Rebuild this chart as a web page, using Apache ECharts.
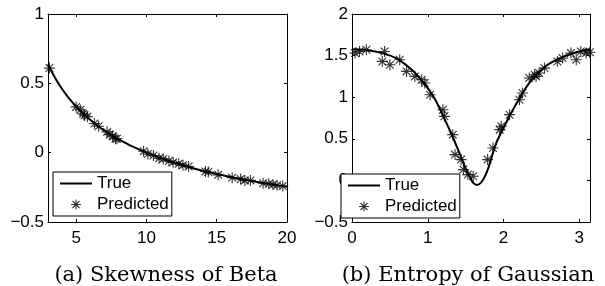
<!DOCTYPE html>
<html>
<head>
<meta charset="utf-8">
<script src="https://cdn.jsdelivr.net/npm/echarts@6/dist/echarts.min.js"></script>
<style>
  html, body { margin: 0; padding: 0; background: #fff; }
  #main { width: 605px; height: 286px; }
</style>
</head>
<body>
<div id="main"></div>
<script>
// (a) skewness of beta
var betaX = [3, 3.5, 4, 4.5, 5, 5.5, 6, 6.5, 7, 7.5, 8, 9, 10, 11, 12, 13, 14, 15, 16, 17, 18, 19, 20];
var betaTrue = [0.638, 0.540, 0.459, 0.391, 0.333, 0.282, 0.237, 0.196, 0.160, 0.127, 0.098, 0.045, 0, -0.039, -0.073, -0.103, -0.130, -0.154, -0.176, -0.196, -0.214, -0.231, -0.246];
var betaPredX = [3.1, 5.0, 5.3, 5.5, 5.6, 5.8, 6.3, 6.6, 7.2, 7.4, 7.6, 7.8, 7.9, 9.8, 10.1, 10.5, 10.9, 11.2, 11.6, 11.9, 12.3, 12.6, 13.0, 14.2, 14.4, 15.1, 16.1, 16.7, 17.0, 17.4, 18.3, 18.7, 19.0, 19.3, 19.7];
var betaPredY = [0.61, 0.33, 0.31, 0.28, 0.27, 0.26, 0.21, 0.19, 0.15, 0.13, 0.12, 0.10, 0.10, 0.01, -0.01, -0.02, -0.04, -0.045, -0.06, -0.07, -0.08, -0.09, -0.10, -0.135, -0.14, -0.16, -0.18, -0.19, -0.20, -0.20, -0.22, -0.225, -0.23, -0.235, -0.24];
var betaXTicks = [5, 10, 15, 20];

// (b) entropy of gaussian
var gaussX = [0, 0.2, 0.4, 0.6, 0.8, 0.9, 1.0, 1.1, 1.2, 1.3, 1.4, 1.5, 1.55, 1.6, 1.65, 1.7, 1.75, 1.8, 1.9, 2.0, 2.1, 2.2, 2.3, 2.4, 2.5, 2.6, 2.8, 3.0, 3.14];
var gaussTrue = [1.575, 1.565, 1.53, 1.46, 1.32, 1.22, 1.11, 0.97, 0.78, 0.585, 0.37, 0.145, 0.05, -0.03, -0.055, -0.03, 0.04, 0.15, 0.44, 0.63, 0.81, 0.97, 1.12, 1.24, 1.33, 1.40, 1.49, 1.55, 1.575];
var gaussPredX = [0.04, 0.10, 0.19, 0.40, 0.43, 0.50, 0.63, 0.72, 0.83, 0.92, 0.96, 1.03, 1.20, 1.22, 1.33, 1.36, 1.44, 1.47, 1.53, 1.60, 1.79, 1.86, 1.95, 1.97, 2.08, 2.21, 2.25, 2.34, 2.41, 2.43, 2.47, 2.54, 2.71, 2.78, 2.89, 2.96, 3.02, 3.09, 3.14];
var gaussPredY = [1.53, 1.55, 1.57, 1.43, 1.55, 1.39, 1.45, 1.31, 1.25, 1.21, 1.17, 1.03, 0.85, 0.77, 0.55, 0.31, 0.25, 0.13, 0.07, 0.05, 0.25, 0.39, 0.61, 0.65, 0.79, 0.97, 1.05, 1.23, 1.27, 1.25, 1.29, 1.35, 1.43, 1.47, 1.53, 1.45, 1.55, 1.53, 1.54];
var gaussXTicks = [0, 1, 2, 3];

var captions = ['(a) Skewness of Beta', '(b) Entropy of Gaussian'];

var FONT = "'Liberation Sans', Arial, Helvetica, sans-serif";
var STAR = 'path://M5,0L5,10M0,5L10,5M1.5,1.5L8.5,8.5M1.5,8.5L8.5,1.5';
var LINE_ICON = 'path://M0,0L32,0L32,2L0,2Z';
var starStyle = { color: 'transparent', borderColor: '#000', borderWidth: 1.1 };

function zip(a, b) {
  return a.map(function (v, i) { return [v, b[i]]; });
}
function minus(v) {
  return String(v).replace('-', '\u2212');
}

function xAxes(gi, min, max, ticks) {
  var base = {
    type: 'value', gridIndex: gi, min: min, max: max,
    axisLine: { show: true, onZero: false, lineStyle: { color: '#000', width: 1 } },
    axisTick: { show: true, inside: true, length: 3, customValues: ticks, lineStyle: { color: '#000' } },
    splitLine: { show: false }
  };
  var bottom = Object.assign({}, base, {
    position: 'bottom',
    axisLabel: { customValues: ticks, color: '#000', fontSize: 17, fontFamily: FONT, margin: 8 }
  });
  var top = Object.assign({}, base, { position: 'top', axisLabel: { show: false } });
  return [bottom, top];
}

function yAxes(gi, min, max) {
  var base = {
    type: 'value', gridIndex: gi, min: min, max: max, interval: 0.5,
    axisLine: { show: true, onZero: false, lineStyle: { color: '#000', width: 1 } },
    axisTick: { show: true, inside: true, length: 3, lineStyle: { color: '#000' } },
    splitLine: { show: false }
  };
  var left = Object.assign({}, base, {
    position: 'left',
    axisLabel: { color: '#000', fontSize: 17, fontFamily: FONT, margin: 4, formatter: minus }
  });
  var right = Object.assign({}, base, { position: 'right', axisLabel: { show: false } });
  return [left, right];
}

function legendAt(left, top) {
  return {
    orient: 'vertical', left: left, top: top,
    backgroundColor: '#fff', borderColor: '#000', borderWidth: 1, borderRadius: 0,
    padding: [3, 3, 3, 7], itemGap: 4, itemWidth: 32, itemHeight: 10,
    selectedMode: false,
    textStyle: { color: '#000', fontSize: 17, fontFamily: FONT },
    data: [
      { name: 'True', icon: LINE_ICON, itemStyle: { color: '#000', borderWidth: 0 } },
      { name: 'Predicted', icon: STAR, itemStyle: starStyle }
    ]
  };
}

var myChart = echarts.init(document.getElementById('main'));
var option = {
  animation: false,
  backgroundColor: '#fff',
  grid: [
    { left: 48, top: 14, width: 239, height: 208 },
    { left: 352, top: 14, width: 238, height: 208 }
  ],
  xAxis: xAxes(0, 3, 20, betaXTicks).concat(xAxes(1, 0, Math.PI, gaussXTicks)),
  yAxis: yAxes(0, -0.5, 1).concat(yAxes(1, -0.5, 2)),
  legend: [legendAt(53, 172), legendAt(341, 174)],
  graphic: [
    { type: 'text', x: 166, y: 276, style: { text: captions[0], font: '21px "DejaVu Serif", serif', fill: '#000', textAlign: 'center', textVerticalAlign: 'middle' } },
    { type: 'text', x: 468, y: 276, style: { text: captions[1], font: '21px "DejaVu Serif", serif', fill: '#000', textAlign: 'center', textVerticalAlign: 'middle' } }
  ],
  series: [
    { name: 'True', type: 'line', xAxisIndex: 0, yAxisIndex: 0, data: zip(betaX, betaTrue),
      symbol: 'none', smooth: 0.3, lineStyle: { color: '#000', width: 2 }, itemStyle: { color: '#000' } },
    { name: 'Predicted', type: 'scatter', xAxisIndex: 0, yAxisIndex: 0, data: zip(betaPredX, betaPredY),
      symbol: STAR, symbolSize: 11, itemStyle: starStyle },
    { name: 'True', type: 'line', xAxisIndex: 2, yAxisIndex: 2, data: zip(gaussX, gaussTrue),
      symbol: 'none', smooth: 0.3, lineStyle: { color: '#000', width: 2 }, itemStyle: { color: '#000' } },
    { name: 'Predicted', type: 'scatter', xAxisIndex: 2, yAxisIndex: 2, data: zip(gaussPredX, gaussPredY),
      symbol: STAR, symbolSize: 11, itemStyle: starStyle }
  ]
};
myChart.setOption(option);
</script>
</body>
</html>
